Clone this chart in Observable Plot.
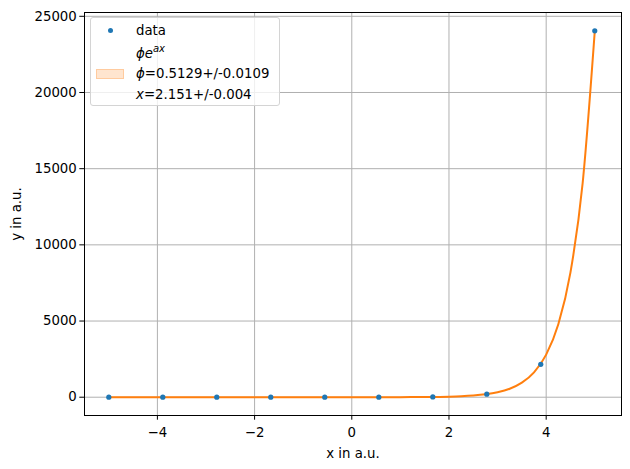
<!DOCTYPE html>
<html><head><meta charset="utf-8">
<script src="https://cdn.jsdelivr.net/npm/d3@7"></script>
<script src="https://cdn.jsdelivr.net/npm/@observablehq/plot@0.6"></script>
<style>
body{margin:0;background:#fff;font-family:"DejaVu Sans",sans-serif;}
#wrap{position:relative;width:630px;height:469px;}
.legend{position:absolute;left:90px;top:17px;width:190px;height:89px;border:1px solid #d4d4d4;border-radius:3px;background:rgba(255,255,255,0.8);font-size:13.3px;color:#000;box-sizing:border-box;}
.legend .t{position:absolute;left:45px;line-height:16px;white-space:nowrap;}
.legend .dot{position:absolute;left:17px;top:10px;width:5px;height:5px;border-radius:50%;background:#1f77b4;}
.legend .patch{position:absolute;left:5px;top:51px;width:28px;height:10px;background:rgba(255,127,14,0.2);border:1px solid rgba(255,127,14,0.25);box-sizing:border-box;}
sup{font-size:10px;vertical-align:6px;line-height:0;}
</style></head><body><div id="wrap"></div>
<script>
const dataX = [-5, -3.889, -2.778, -1.667, -0.556, 0.556, 1.667, 2.778, 3.889, 5];
const dataY = [0, 0, 0, 0, 0.2, 1.7, 18, 200, 2160, 24050];
const fitX = [-5, -4, -3, -2, -1, 0, 1, 1.5, 2, 2.25, 2.5, 2.75, 3, 3.25, 3.5, 3.75, 4, 4.25, 4.5, 4.75, 5];
const fitY = [0, 0, 0, 0.01, 0.06, 0.51, 4.4, 13, 38, 65, 111, 190, 325, 557, 954, 1633, 2796, 4787, 8195, 14032, 24025];
const xTicks = [-4, -2, 0, 2, 4];
const yTicks = [0, 5000, 10000, 15000, 20000, 25000];

const points = dataX.map((x, i) => ({x, y: dataY[i]}));
const fit = fitX.map((x, i) => ({x, y: fitY[i]}));

const chart = Plot.plot({
  width: 630, height: 469,
  marginLeft: 84, marginRight: 9, marginTop: 12, marginBottom: 54,
  style: {fontFamily: "DejaVu Sans", fontSize: "13.3px", background: "white", color: "black"},
  x: {domain: [-5.5, 5.55]},
  y: {domain: [-1200, 25250]},
  marks: [
    Plot.gridX(xTicks, {stroke: "#b0b0b0", strokeOpacity: 1, strokeWidth: 1}),
    Plot.gridY(yTicks, {stroke: "#b0b0b0", strokeOpacity: 1, strokeWidth: 1}),
    Plot.line(fit, {x: "x", y: "y", stroke: "#ff7f0e", strokeWidth: 2, curve: "monotone-x"}),
    Plot.dot(points, {x: "x", y: "y", r: 2.6, fill: "#1f77b4", stroke: "none"}),
    Plot.frame({stroke: "black", strokeWidth: 1}),
    Plot.axisX(xTicks, {tickSize: 4.7, tickPadding: 7, tickFormat: d3.format("d"), label: "x in a.u.", labelAnchor: "center", labelArrow: "none", labelOffset: 42, stroke: "black"}),
    Plot.axisY(yTicks, {tickSize: 4.7, tickPadding: 3, tickFormat: d3.format("d"), label: "y in a.u.", labelAnchor: "center", labelArrow: "none", labelOffset: 73, stroke: "black"})
  ]
});
const wrap = document.getElementById("wrap");
wrap.appendChild(chart);
const lg = document.createElement("div");
lg.className = "legend";
lg.innerHTML = `<div class="dot"></div><div class="t" style="top:5px">data</div>
<div class="t" style="top:28px"><i>ϕe</i><sup><i>ax</i></sup></div>
<div class="patch"></div>
<div class="t" style="top:48px"><i>ϕ</i>=0.5129+/-0.0109</div>
<div class="t" style="top:69px"><i>x</i>=2.151+/-0.004</div>`;
wrap.appendChild(lg);
</script>
</body></html>
